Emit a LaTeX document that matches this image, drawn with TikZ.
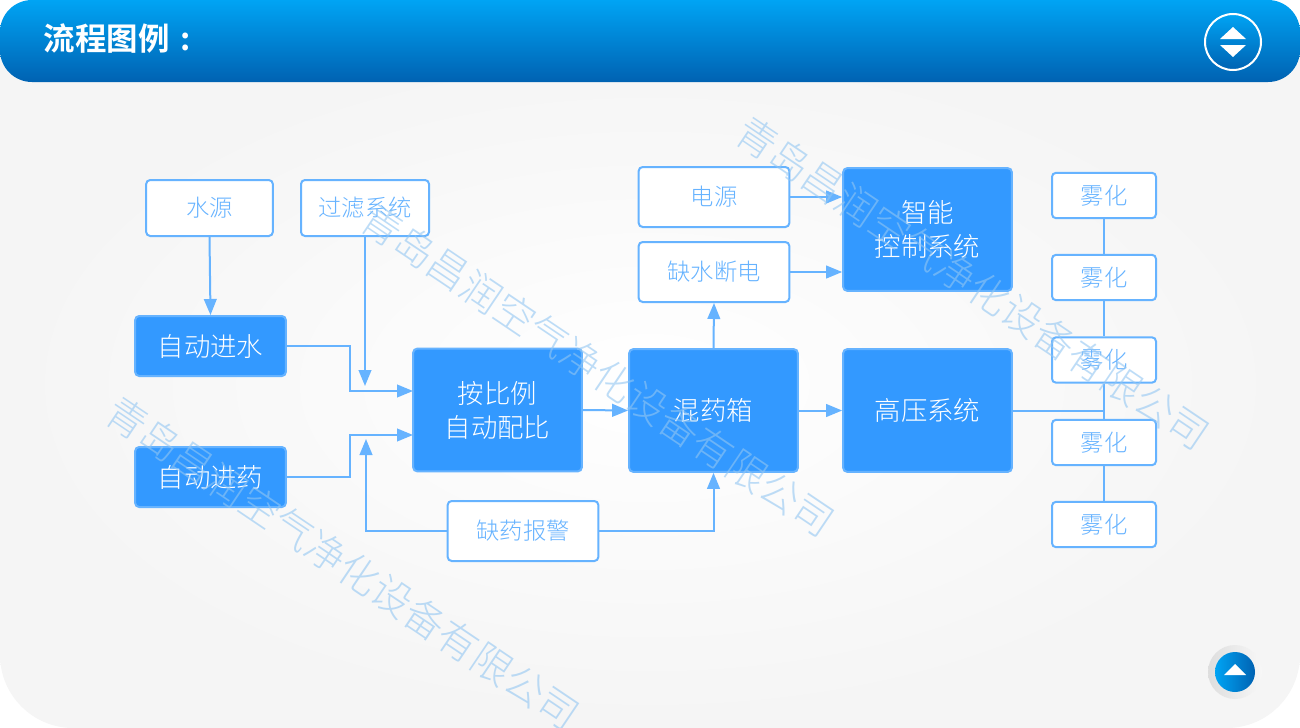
\documentclass[tikz,border=0pt]{standalone}
\usepackage{fontspec}
\setmainfont{Noto Sans CJK SC Light}[BoldFont={Noto Sans CJK SC Bold}]
\usetikzlibrary{arrows.meta}
\definecolor{boxblue}{HTML}{3399FF}
\definecolor{lineblue}{HTML}{66B3FF}
\definecolor{markblue}{HTML}{92C6F2}
\definecolor{headtop}{HTML}{00A4F4}
\definecolor{headbot}{HTML}{0062B2}
\tikzset{
  bluebox/.style={draw=lineblue, line width=1.5pt, fill=boxblue, rounded corners=3pt, text=white, inner sep=0pt, align=center, font=\fontsize{19.8}{25.5}\selectfont},
  whitebox/.style={draw=lineblue, line width=1.5pt, fill=white, rounded corners=3pt, text=lineblue, inner sep=0pt, font=\fontsize{17.5}{22}\selectfont},
  smallbox/.style={minimum width=113pt, minimum height=45pt},
  bigbox/.style={minimum width=126.5pt, minimum height=92pt},
  spraybox/.style={whitebox, minimum width=78pt, minimum height=34pt},
  link/.style={draw=lineblue, line width=1.5pt},
  arrowlink/.style={link, -{Triangle[length=12pt, width=9.5pt]}},
  watermark/.style={text=markblue, opacity=.6, rotate=-34, font=\fontsize{30}{30}\selectfont}
}
\begin{document}
\begin{tikzpicture}[x=.75pt, y=-.75pt]
        \useasboundingbox (0,0) rectangle (1300,728);
        \fill [white] (0,0) rectangle (1300,728);
        % panel and header
        \shade [inner color=white, outer color=black!4] (0,40) -- (1300,40) [rounded corners=55pt] -- (1300,728) -- (0,728) [sharp corners] -- cycle;
        \shade [top color=headtop, bottom color=headbot, rounded corners=24pt] (0,0) rectangle (1300,82);
        \node [text=white, font=\fontsize{23.6}{28}\selectfont\bfseries, anchor=west] (title) at (39,38.5) {流程图例\hspace{8pt}:};
        % buttons
        \shade [top color=headtop, bottom color=headbot, draw=white, line width=1.5pt] (1233,42) circle [radius=28];
        \fill [white] (1233,27) -- (1246,39) -- (1220,39) -- cycle;
        \fill [white] (1220,45) -- (1246,45) -- (1233,57) -- cycle;
        \shade [left color=black!13, right color=black!3] (1235,672) circle [radius=27];
        \shade [left color=headtop, right color=headbot] (1235,672) circle [radius=20];
        \fill [white] (1235,664) -- (1246,675) -- (1224,675) -- cycle;
        % left column
        \node [whitebox, minimum width=95pt, minimum height=42pt] (water) at (209.5,208) {水源};
        \node [whitebox, minimum width=96pt, minimum height=42pt] (filter) at (365,208) {过滤系统};
        \node [bluebox, smallbox] (inwater) at (210.5,346) {自动进水};
        \node [bluebox, smallbox] (indrug) at (210.5,477) {自动进药};
        % middle
        \node [bluebox, bigbox] (ratio) at (497.5,410) {按比例\\自动配比};
        \node [bluebox, bigbox] (mixer) at (713.5,410.5) {混药箱};
        \node [whitebox, smallbox] (alarm) at (523,531) {缺药报警};
        \node [whitebox, smallbox] (power) at (714,197) {电源};
        \node [whitebox, smallbox] (cutoff) at (714,272) {缺水断电};
        % right
        \node [bluebox, bigbox] (control) at (927.5,229.5) {智能\\控制系统};
        \node [bluebox, bigbox] (highvolt) at (927.5,410.5) {高压系统};
        \node [spraybox] (spraya) at (1104,195.5) {雾化};
        \node [spraybox] (sprayb) at (1104,277.5) {雾化};
        \node [spraybox] (sprayc) at (1104,360) {雾化};
        \node [spraybox] (sprayd) at (1104,442.5) {雾化};
        \node [spraybox] (spraye) at (1104,524.5) {雾化};
        % free ends of the arrows
        \coordinate (filterend) at (365,386);
        \coordinate (alarmend) at (366,439);
        \coordinate (ratioup) at (413,391);
        \coordinate (ratiolow) at (413,435);
        \coordinate (jointup) at (350,346);
        \coordinate (jointlow) at (350,477);
        % connectors
        \draw [arrowlink] (water.south) -- (inwater.north);
        \draw [arrowlink] (filter.south) -- (filterend);
        \draw [arrowlink] (inwater.east) -- (jointup) |- (ratioup);
        \draw [arrowlink] (indrug.east) -- (jointlow) |- (ratiolow);
        \draw [arrowlink] (alarm.west) -| (alarmend);
        \draw [arrowlink] (alarm.east) -| (mixer.south);
        \draw [arrowlink] (ratio.east) -- (mixer.west);
        \draw [arrowlink] (mixer.east) -- (highvolt.west);
        \draw [arrowlink] (mixer.north) -- (cutoff.south);
        \draw [arrowlink] (power.east) -- (control.west |- power.east);
        \draw [arrowlink] (cutoff.east) -- (control.west |- cutoff.east);
        \draw [link] (highvolt.east) -- (highvolt.east -| sprayc.south);
        \draw [link] (spraya.south) -- (sprayb.north);
        \draw [link] (sprayb.south) -- (sprayc.north);
        \draw [link] (sprayc.south) -- (sprayd.north);
        \draw [link] (sprayd.south) -- (spraye.north);
        % watermarks
        \node [watermark] (marka) at (973,283) {青岛昌润空气净化设备有限公司};
        \node [watermark] (markb) at (598,370) {青岛昌润空气净化设备有限公司};
        \node [watermark] (markc) at (343,563) {青岛昌润空气净化设备有限公司};
    \end{tikzpicture}
\end{document}
